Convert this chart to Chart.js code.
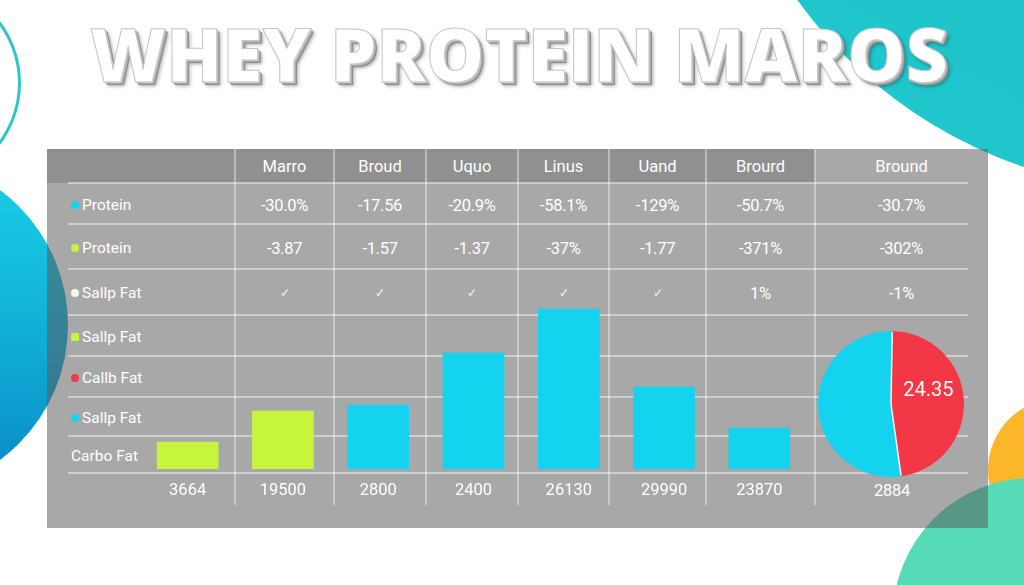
<!DOCTYPE html>
<html><head><meta charset="utf-8">
<script src="https://cdn.jsdelivr.net/npm/chart.js@4.4.1/dist/chart.umd.min.js"></script>
<style>
html,body{margin:0;padding:0;}
body{width:1024px;height:585px;position:relative;overflow:hidden;background:#fff;font-family:Roboto,"Liberation Sans",Arial,sans-serif;}
.abs{position:absolute;}
#ring{left:-183px;top:-19px;width:198px;height:198px;border:3px solid #2fc6c6;border-radius:50%;}
#blue{left:-268px;top:157px;width:336px;height:336px;border-radius:50%;background:linear-gradient(180deg,#1bd0e6 0%,#12b4da 45%,#0a88c4 100%);}
#teal{left:710px;top:-731px;width:922px;height:922px;border-radius:50%;background:linear-gradient(210deg,#12bccb 30%,#23c9cb 100%);}
#orange{left:988px;top:398px;width:144px;height:144px;border-radius:50%;background:#fbb62a;}
#green{left:893px;top:478px;width:278px;height:278px;border-radius:50%;background:#56dbb6;}
#panel{left:47px;top:149px;width:941px;height:379px;background:rgba(88,88,88,0.52);}
#head{left:47px;top:149px;width:768px;height:34px;background:rgba(50,50,50,0.2);}
.hl{height:1.5px;background:rgba(255,255,255,0.45);}
.vl{width:1.5px;background:rgba(255,255,255,0.38);}
.cell{position:absolute;color:#fff;text-align:center;transform:translate(-50%,-50%);white-space:nowrap;}
.hdr{font-size:16.5px;}
.val{font-size:16.5px;letter-spacing:-0.3px;}
.chk{font-size:12px;color:#f2f2f2;}
.lab{position:absolute;color:#fff;font-size:15.5px;transform:translateY(-50%);white-space:nowrap;}
.dot{position:absolute;width:8px;height:8px;border-radius:50%;transform:translateY(-50%);}
#title{position:absolute;left:90px;top:17px;font-family:"Open Sans","DejaVu Sans",sans-serif;font-weight:800;font-size:74px;line-height:74px;color:#fff;white-space:nowrap;transform-origin:0 0;
 -webkit-text-stroke:1px #c4c4c4;text-shadow:1px 1px 0 #c8c8c8,2px 2px 0 #aaaaaa,3px 3px 0 #8d8d8d,4px 4px 4px rgba(0,0,0,0.35);}
#bars{left:140px;top:299px;}
#pie{left:818px;top:331px;}
</style></head>
<body>
<div id="ring" class="abs"></div>
<div id="blue" class="abs"></div>
<div id="teal" class="abs"></div>
<div id="orange" class="abs"></div>
<div id="green" class="abs"></div>
<div id="panel" class="abs"></div>
<div id="head" class="abs"></div>
<div id="grid"></div>
<div id="texts"></div>
<canvas id="bars" class="abs" width="667" height="206"></canvas>
<canvas id="pie" class="abs" width="146" height="146"></canvas>
<div id="title">WHEY PROTEIN MAROS</div>
<script>
// ---- data ----
const titleText = 'WHEY PROTEIN MAROS';
const headers = ['Marro','Broud','Uquo','Linus','Uand','Brourd','Bround'];
const rowLabels = ['Protein','Protein','Sallp Fat','Sallp Fat','Callb Fat','Sallp Fat','Carbo Fat'];
const rowDotKeys = ['cyan','green','white','green','red','cyan',null];
const proteinRowA = ['-30.0%','-17.56','-20.9%','-58.1%','-129%','-50.7%','-30.7%'];
const proteinRowB = ['-3.87','-1.57','-1.37','-37%','-1.77','-371%','-302%'];
const fatRow = ['\u2713','\u2713','\u2713','\u2713','\u2713','1%','-1%'];
const barLabels = ['3664','19500','2800','2400','26130','29990','23870'];
const barValues = [27, 58, 64, 116, 160, 82, 41];
const barKeys = ['green','green','cyan','cyan','cyan','cyan','cyan'];
const pieBottomLabel = '2884';
const pieLabels = ['Fat','Protein'];
const pieValues = [47.5, 52.5];
const pieCenterText = '24.35';

// ---- styles / layout ----
const COLORS = {cyan:'#14d3ee', green:'#c6f53c', white:'#f4f8ea', red:'#f03a4e', pieRed:'#f33747', pieCyan:'#14d3ee'};
const colEdges = [47,235,334,426,518,609,706,815,988];
const rowEdges = [149,183,224,269,315,356,397,436,473,505];

const grid = document.getElementById('grid');
const texts = document.getElementById('texts');
function addDiv(parent, cls, css, txt){
  const d=document.createElement('div'); d.className=cls; Object.assign(d.style,css);
  if(txt!==undefined) d.textContent=txt; parent.appendChild(d); return d;
}
for(let i=1;i<rowEdges.length-1;i++){
  addDiv(grid,'abs hl',{left:'68px',top:(rowEdges[i]-0.75)+'px',width:'900px'});
}
for(let i=1;i<colEdges.length-1;i++){
  addDiv(grid,'abs vl',{left:(colEdges[i]-0.75)+'px',top:'149px',height:'356px'});
}
const colCenter = i => (colEdges[i+1]+colEdges[i+2])/2;
const rowCenter = r => (rowEdges[r+1]+rowEdges[r+2])/2;
headers.forEach((h,i)=>addDiv(texts,'cell hdr',{left:colCenter(i)+'px',top:'166px'},h));
[proteinRowA,proteinRowB].forEach((row,r)=>row.forEach((v,i)=>addDiv(texts,'cell val',{left:colCenter(i)+'px',top:(rowCenter(r)+1)+'px'},v)));
fatRow.forEach((v,i)=>addDiv(texts,v==='\u2713'?'cell chk':'cell val',{left:colCenter(i)+'px',top:(rowCenter(2)+1)+'px'},v));
rowLabels.forEach((l,r)=>{
  const y=rowCenter(r)+1;
  const k=rowDotKeys[r];
  if(k){
    addDiv(texts,'dot',{left:'71px',top:y+'px',background:COLORS[k],borderRadius:(r===3?'1.5px':'50%')});
    addDiv(texts,'lab',{left:'82px',top:y+'px'},l);
  } else {
    addDiv(texts,'lab',{left:'71px',top:y+'px'},l);
  }
});
addDiv(texts,'cell val',{left:'892px',top:'490px',fontSize:'16.5px'},pieBottomLabel);

// title fit
const t=document.getElementById('title'); t.textContent=titleText;
const w=t.getBoundingClientRect().width; t.style.transform='scaleX('+(858/w)+')';

// ---- bar chart ----
new Chart(document.getElementById('bars'),{
  type:'bar',
  data:{labels:barLabels,datasets:[{data:barValues,backgroundColor:barKeys.map(k=>COLORS[k]),borderWidth:0,barThickness:61}]},
  options:{responsive:false,devicePixelRatio:1,animation:false,
    layout:{padding:0},
    plugins:{legend:{display:false},tooltip:{enabled:false}},
    scales:{
      y:{display:false,min:0,max:170},
      x:{grid:{display:false,drawTicks:false},border:{display:false},
         ticks:{color:'#ffffff',padding:12,font:{family:'Roboto',size:16.5}},
         afterFit:s=>{s.height=36;}}
    }}
});

// ---- pie chart ----
const pieText={id:'pieText',afterDatasetsDraw(chart){
  const arc=chart.getDatasetMeta(0).data[0];
  const a=arc.getProps(['x','y','startAngle','endAngle','outerRadius']);
  const ctx=chart.ctx; ctx.save();
  // white separator lines along slice edges
  ctx.strokeStyle='rgba(255,255,255,0.9)'; ctx.lineWidth=1.5;
  [a.startAngle,a.endAngle].forEach(ang=>{
    ctx.beginPath(); ctx.moveTo(a.x,a.y);
    ctx.lineTo(a.x+Math.cos(ang)*(a.outerRadius-1),a.y+Math.sin(ang)*(a.outerRadius-1)); ctx.stroke();
  });
  const p=arc.tooltipPosition();
  ctx.fillStyle='#fff'; ctx.font='20px Roboto'; ctx.textAlign='center'; ctx.textBaseline='middle';
  ctx.fillText(pieCenterText,p.x+1,p.y-11); ctx.restore();
}};
new Chart(document.getElementById('pie'),{
  type:'pie',
  data:{labels:pieLabels,datasets:[{data:pieValues,backgroundColor:[COLORS.pieRed,COLORS.pieCyan],borderWidth:0}]},
  options:{responsive:false,devicePixelRatio:1,animation:false,rotation:1,
    plugins:{legend:{display:false},tooltip:{enabled:false}}},
  plugins:[pieText]
});
</script>
</body></html>
